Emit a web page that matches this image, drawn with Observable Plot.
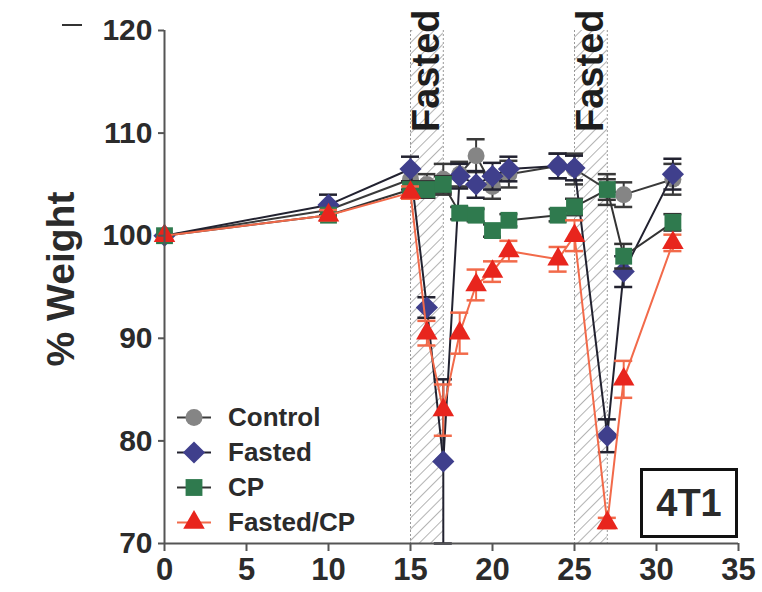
<!DOCTYPE html>
<html><head><meta charset="utf-8">
<script src="https://cdn.jsdelivr.net/npm/d3@7"></script>
<script src="https://cdn.jsdelivr.net/npm/@observablehq/plot@0.6"></script>
<style>
body{margin:0;background:#fff;}
#wrap{position:relative;width:762px;height:592px;font-family:"Liberation Sans",Arial,sans-serif;color:#2b2b2b;}
#wrap svg{font-family:"Liberation Sans",Arial,sans-serif;}
.legend{position:absolute;left:176px;top:400px;}
.legend .row{display:flex;align-items:center;height:35px;font-weight:bold;font-size:26px;color:#2b2b2b;}
.legend .row svg{width:36px;height:35px;margin-right:16px;}
.tag{position:absolute;left:640px;top:468px;width:92px;height:64px;border:3px solid #111;display:flex;align-items:center;justify-content:center;font-weight:bold;font-size:38px;color:#2b2b2b;}
.dash{position:absolute;left:62px;top:24px;width:20px;height:2px;background:#333;}
</style></head><body><div id="wrap"></div>
<script>
// ---- data ----
const days = [0, 10, 15, 16, 17, 18, 19, 20, 21, 24, 25, 27, 28, 31];
const controlVals = [100, 102.5, 105.5, 105, 105.5, 106, 107.8, 104.8, 106, 106.8, 106.5, 104.5, 104, 105.5];
const controlErr  = [0, 0.5, 1, 1, 1.5, 1.2, 1.6, 1.2, 1.3, 1.2, 1.5, 1.5, 1.2, 1.5];
const fastedVals  = [100, 103, 106.5, 93, 78, 105.8, 105, 105.8, 106.5, 106.8, 106.6, 80.5, 96.5, 106];
const fastedErr   = [0, 1, 1.2, 1, 8, 1.2, 1.3, 1.3, 1.2, 1.2, 1.2, 1.6, 1.5, 1.5];
const cpVals      = [100, 102, 104.5, 104.5, 105, 102.2, 102, 100.5, 101.5, 102, 102.8, 104.5, 98, 101.3];
const cpErr       = [0, 0.5, 0.8, 0.8, 0.8, 0.6, 0.6, 0.6, 0.6, 0.6, 0.8, 1, 1.2, 0.8];
const fcpVals     = [100, 102, 104.2, 90.5, 83, 90.5, 95.2, 96.5, 98.5, 97.7, 100, 72, 86, 99.3];
const fcpErr      = [0, 0.5, 0.6, 1.2, 2.5, 2, 1.5, 1, 1, 1.2, 1.5, 0.5, 1.8, 0.8];
const seriesNames = ["Control", "Fasted", "CP", "Fasted/CP"];
const fastStart = [15, 25];
const fastEnd   = [17, 27];
const bandLabel = "Fasted";
const xTicks = [0, 5, 10, 15, 20, 25, 30, 35];
const yTicks = [70, 80, 90, 100, 110, 120];
const yLabel = "% Weight";
const panelTag = "4T1";

// ---- styles per series ----
const styles = {
  "Control":   {symbol: "circle",   r: 8.5, fill: "#858585", line: "#3a3a3a", err: "#3a3a3a"},
  "Fasted":    {symbol: "diamond2", r: 10,  fill: "#3f3f8c", line: "#222230", err: "#222230"},
  "CP":        {symbol: "square",   r: 9.5, fill: "#2f7a4e", line: "#333",    err: "#333"},
  "Fasted/CP": {symbol: "triangle", r: 8,   fill: "#e8251d", line: "#f26a4a", err: "#f26a4a"}
};
const valsList = [controlVals, fastedVals, cpVals, fcpVals];
const errList = [controlErr, fastedErr, cpErr, fcpErr];
const rows = seriesNames.map((s, k) => days.map((d, i) => ({series: s, day: d, value: valsList[k][i], err: errList[k][i]})));
const bands = fastStart.map((s, i) => ({start: s, end: fastEnd[i]}));

const marks = [
  Plot.rect(bands, {x1: "start", x2: "end", fill: "url(#hatch)"}),
  Plot.ruleX(bands.flatMap(b => [b.start, b.end]), {stroke: "#9a9a9a", strokeWidth: 1, strokeDasharray: "2,2"}),
  Plot.text(bands, {x: d => (d.start + d.end) / 2, text: () => bandLabel, frameAnchor: "top", rotate: -90, textAnchor: "end", lineAnchor: "middle", dy: -21, fontSize: 38, fontWeight: "bold", fill: "#1e1e1e"})
];
rows.forEach(data => {
  const st = styles[data[0].series];
  const e = data.filter(d => d.err > 0);
  marks.push(
    Plot.line(data, {x: "day", y: "value", stroke: st.line, strokeWidth: 2}),
    Plot.ruleX(e, {x: "day", y1: d => d.value - d.err, y2: d => d.value + d.err, stroke: st.err, strokeWidth: 2}),
    Plot.ruleY(e, {y: d => d.value + d.err, x1: d => d.day - 0.55, x2: d => d.day + 0.55, stroke: st.err, strokeWidth: 2.5}),
    Plot.ruleY(e, {y: d => d.value - d.err, x1: d => d.day - 0.55, x2: d => d.day + 0.55, stroke: st.err, strokeWidth: 2.5}),
    Plot.dot(data, {x: "day", y: "value", symbol: () => st.symbol, r: st.r, fill: st.fill, stroke: "none"})
  );
});
marks.push(
  Plot.ruleX([0], {stroke: "#555", strokeWidth: 2}),
  Plot.ruleY([70], {stroke: "#555", strokeWidth: 2}),
  Plot.axisY({ticks: yTicks, tickSize: 6, tickPadding: 6, fontSize: 30, fontWeight: "bold", strokeWidth: 2, stroke: "#555", color: "#2b2b2b", label: null}),
  Plot.axisX({ticks: xTicks, tickSize: 8, tickPadding: 6, fontSize: 31, fontWeight: "bold", strokeWidth: 2, stroke: "#555", color: "#2b2b2b", label: null}),
  Plot.text([yLabel], {frameAnchor: "left", textAnchor: "middle", lineAnchor: "middle", rotate: -90, dx: -103, dy: -8, fontSize: 39, fontWeight: "bold", fill: "#2b2b2b"})
);

const svg = Plot.plot({
  width: 762, height: 592,
  marginLeft: 164, marginRight: 24, marginTop: 30, marginBottom: 49,
  x: {domain: [0, 35]},
  y: {domain: [70, 120]},
  symbol: {type: "identity"},
  style: {background: "white", overflow: "visible"},
  marks
});
const defs = document.createElementNS("http://www.w3.org/2000/svg", "defs");
defs.innerHTML = '<pattern id="hatch" patternUnits="userSpaceOnUse" width="8" height="8" patternTransform="rotate(45)"><line x1="0" y1="0" x2="0" y2="8" stroke="#8a8a8a" stroke-width="1.3"/></pattern>';
svg.prepend(defs);
const wrap = document.getElementById("wrap");
wrap.appendChild(svg);

// legend
const leg = document.createElement("div");
leg.className = "legend";
seriesNames.forEach(s => {
  const st = styles[s];
  const row = document.createElement("div");
  row.className = "row";
  const size = Math.PI * st.r * st.r;
  const sym = {circle: d3.symbolCircle, diamond2: d3.symbolDiamond2, square: d3.symbolSquare, triangle: d3.symbolTriangle}[st.symbol];
  const p = d3.symbol(sym, size)();
  row.innerHTML = `<svg viewBox="0 0 36 35"><line x1="1" x2="35" y1="17.5" y2="17.5" stroke="${st.line}" stroke-width="2"/><path transform="translate(18,17.5)" d="${p}" fill="${st.fill}"/></svg><span>${s}</span>`;
  leg.appendChild(row);
});
wrap.appendChild(leg);
const tag = document.createElement("div");
tag.className = "tag"; tag.textContent = panelTag;
wrap.appendChild(tag);
const dash = document.createElement("div");
dash.className = "dash";
wrap.appendChild(dash);
</script>
</body></html>
